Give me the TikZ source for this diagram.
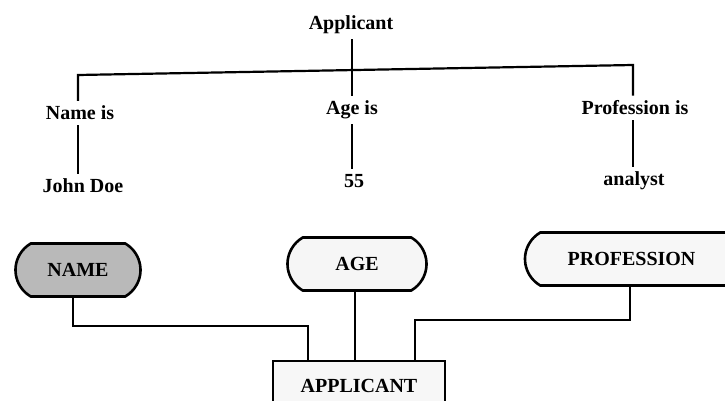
\documentclass[tikz,border=0pt]{standalone}
\usepackage{fontspec}
\setmainfont{Liberation Serif}
\usetikzlibrary{shapes.misc}
\begin{document}
\begin{tikzpicture}[x=1pt,y=-1pt,
  lbl/.style={font=\fontsize{20}{22}\selectfont\bfseries, inner sep=5pt},
  conn/.style={line width=2.2pt},
  pill/.style={draw, line width=2.6pt, rounded rectangle, rounded rectangle arc length=120,
    font=\fontsize{20}{22}\selectfont\bfseries, minimum height=53pt, inner sep=2pt},
  plainbox/.style={draw, line width=2.6pt, rectangle,
    font=\fontsize{20}{22}\selectfont\bfseries, inner sep=2pt}
]
\useasboundingbox (0,0) rectangle (725,401);
\clip (0,0) rectangle (725,401);
\fill[white] (0,0) rectangle (725,401);

% upper tree
\node[lbl] (app) at (351,25) {Applicant};
\node[lbl] (namei) at (80,113) {Name is};
\node[lbl] (agei) at (352,110) {Age is};
\node[lbl] (profi) at (635,108) {Profession is};
\node[lbl] (john) at (83,186) {John Doe};
\node[lbl] (v55) at (354,181) {55};
\node[lbl] (anal) at (634,181) {analyst};

\coordinate (hl) at (78,75);
\coordinate (hr) at (633,65);
\draw[conn] (app.south -| agei.north) -- (agei.north);
\draw[conn] (namei.north -| hl) -- (hl) -- (hr) -- (profi.north -| hr);
\draw[conn] (namei.south -| hl) -- (john.north -| hl);
\draw[conn] (agei.south) -- (agei.south |- v55.north);
\draw[conn] (profi.south -| hr) -- (anal.north -| hr);

% lower diagram
\node[pill, fill=gray!55, minimum width=129pt] (nameb) at (78,270) {NAME};
\node[pill, fill=gray!7, minimum width=143pt] (ageb) at (357,264) {AGE};
\node[pill, fill=gray!6, minimum width=220pt] (profb) at (633,259) {\hspace*{-3pt}PROFESSION};
\node[plainbox, fill=gray!6, minimum width=172pt, minimum height=50pt] (appb) at (359,386) {APPLICANT};

\draw[conn] ([xshift=-5pt]nameb.south) -- ++(0,28) -| ([xshift=-51pt]appb.north);
\draw[conn] ([xshift=-2pt]ageb.south) -- ([xshift=-2pt]ageb.south |- appb.north);
\draw[conn] ([xshift=-3pt]profb.south) -- ++(0,33) -| ([xshift=56pt]appb.north);
\end{tikzpicture}
\end{document}
